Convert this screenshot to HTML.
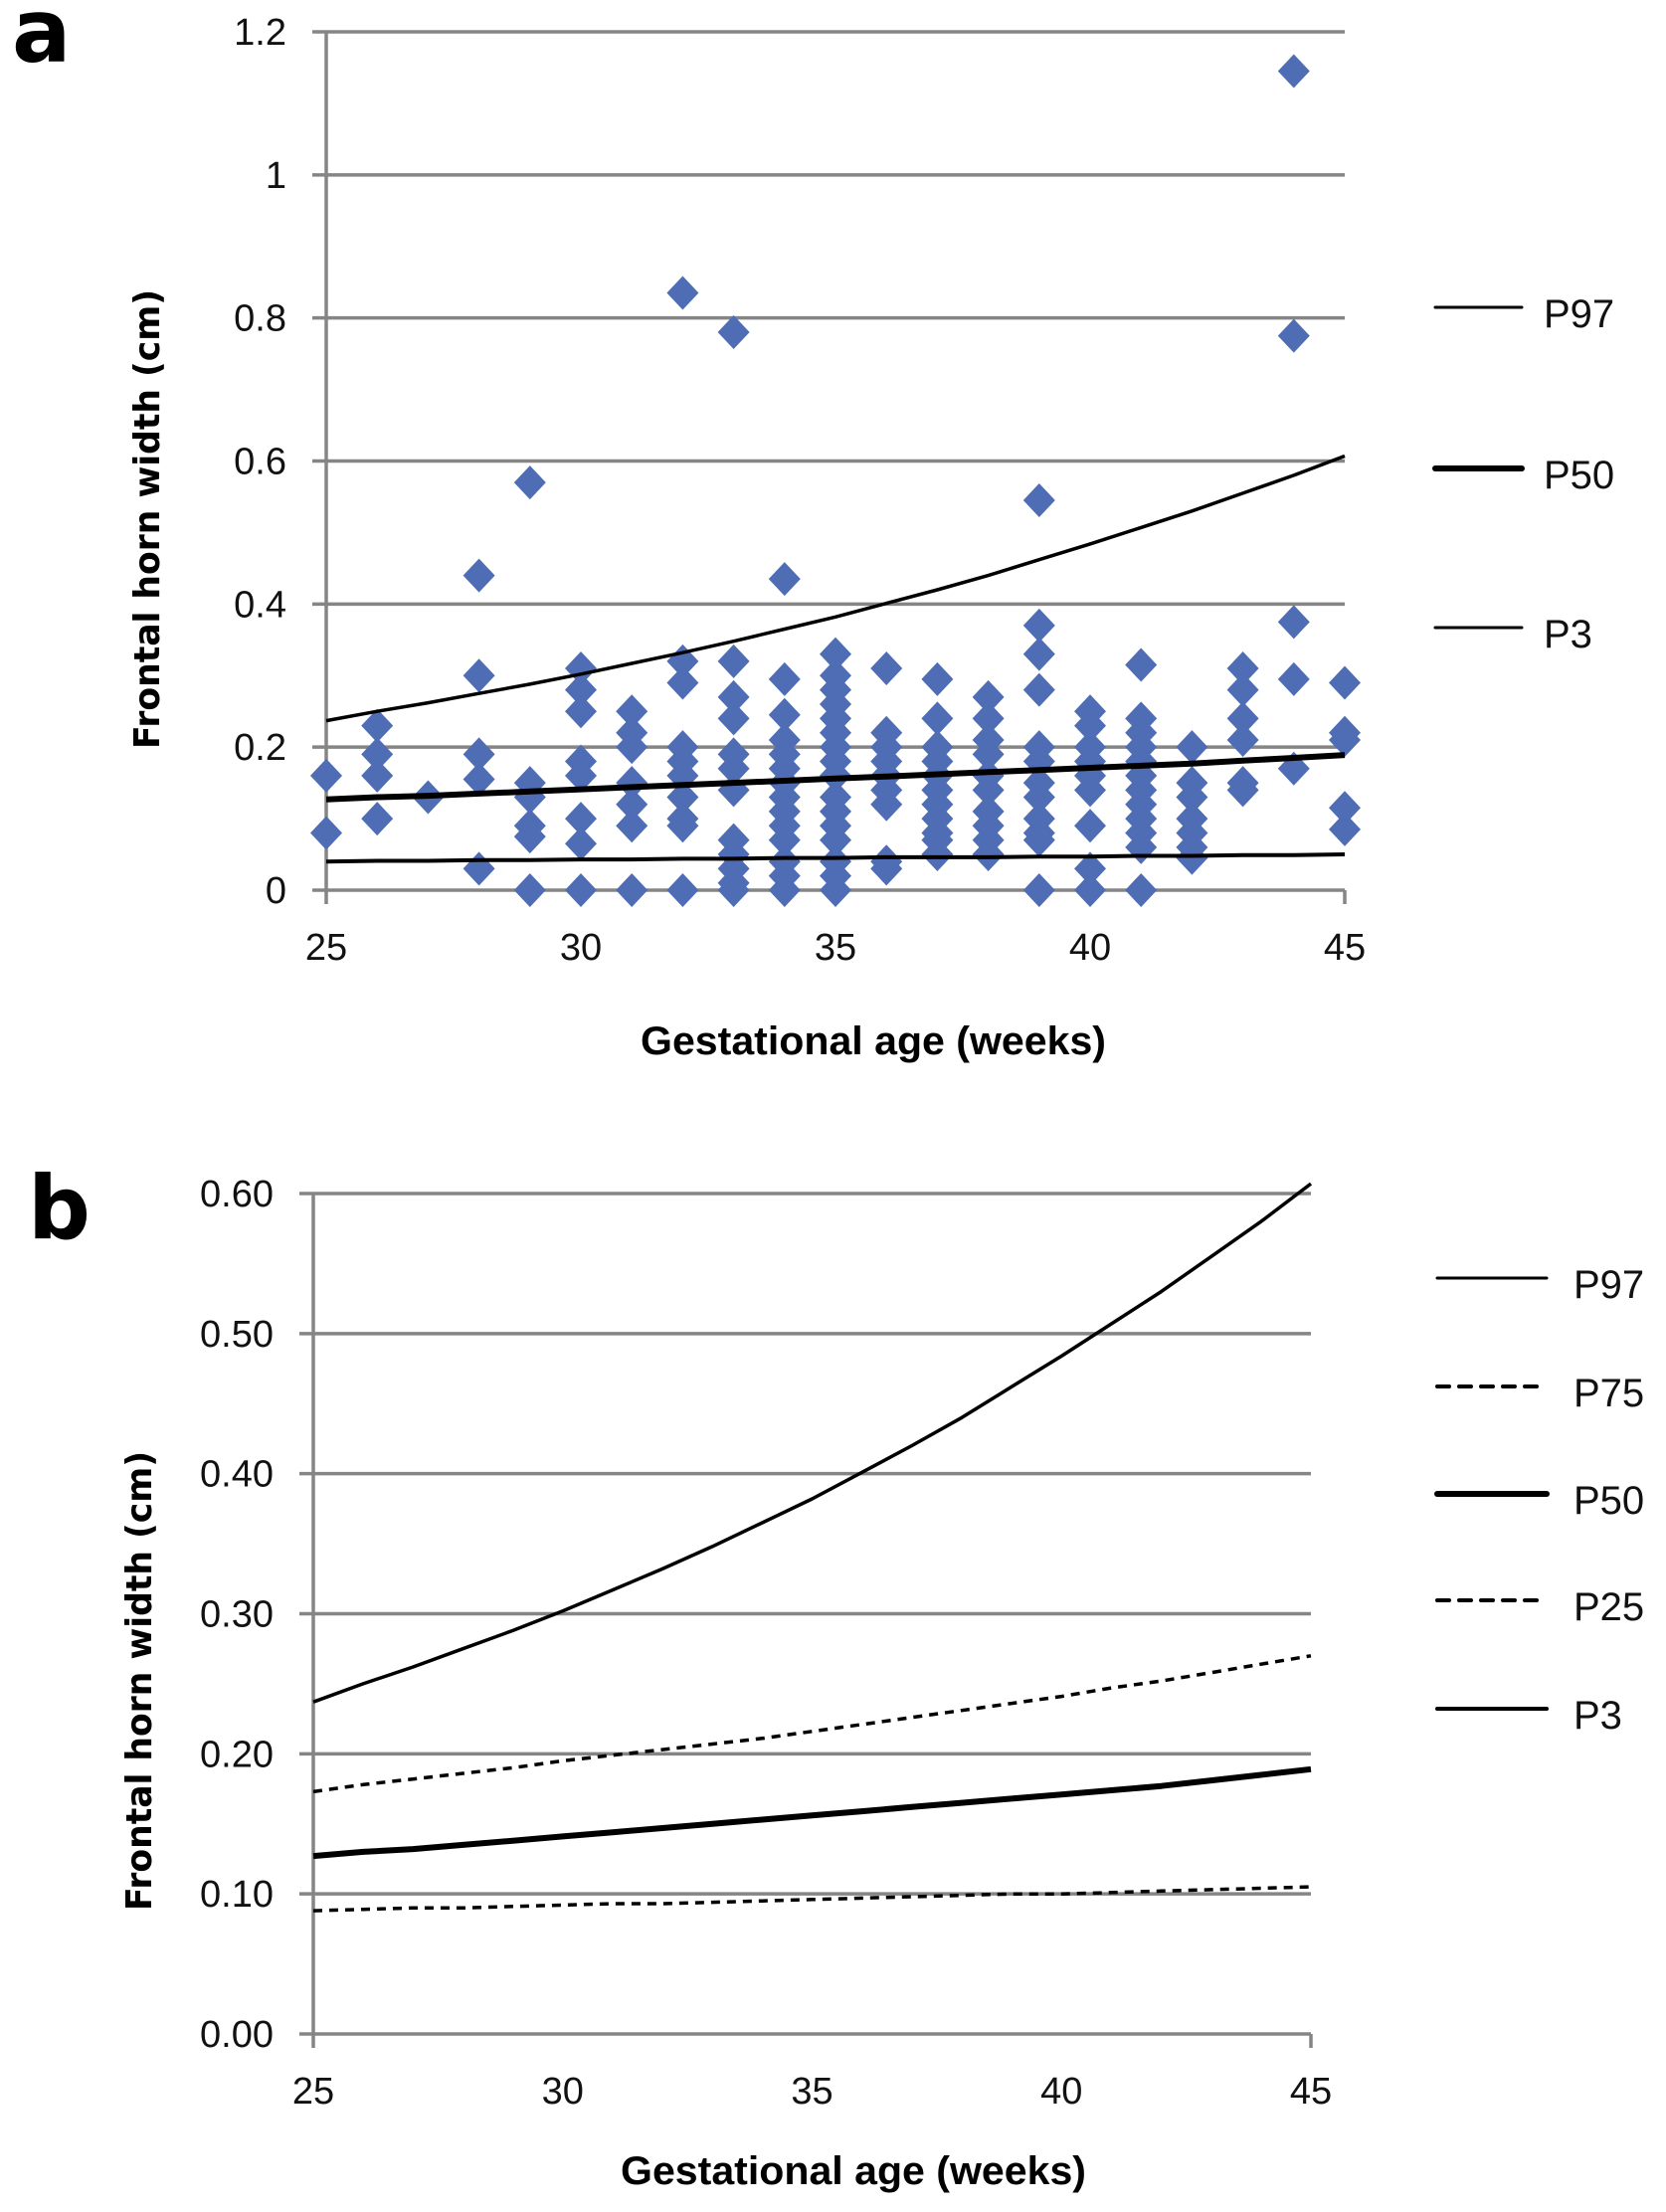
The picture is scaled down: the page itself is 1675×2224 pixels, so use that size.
<!DOCTYPE html>
<html><head><meta charset="utf-8">
<style>
html,body{margin:0;padding:0;background:#fff;}
svg{display:block;}
.tick{font-family:"Liberation Sans Narrow","Liberation Sans",sans-serif;font-size:38px;fill:#111;}
.leg{font-family:"Liberation Sans",sans-serif;font-size:40px;fill:#111;}
.ytitle{font-family:"DejaVu Sans",sans-serif;font-weight:bold;font-size:36px;fill:#000;}
.xtitle{font-family:"Liberation Sans Narrow","Liberation Sans",sans-serif;font-weight:bold;font-size:40px;fill:#000;}
.panel{font-family:"DejaVu Sans",sans-serif;font-weight:bold;font-size:88px;fill:#000;}
</style></head>
<body>
<svg id="fig" width="1675" height="2224" viewBox="0 0 1675 2224" xmlns="http://www.w3.org/2000/svg">
<text class="panel" x="12" y="62">a</text>
<text class="panel" x="28" y="1245">b</text>
<g id="ga"></g>
<g id="gb"></g>
</svg>
<script>
const weeks = [25,26,27,28,29,30,31,32,33,34,35,36,37,38,39,40,41,42,43,44,45];
const p97 = [0.237,0.25,0.262,0.275,0.288,0.302,0.317,0.332,0.348,0.365,0.382,0.401,0.42,0.44,0.462,0.484,0.507,0.53,0.555,0.58,0.607];
const p75 = [0.173,0.178,0.182,0.186,0.19,0.195,0.199,0.203,0.207,0.211,0.216,0.221,0.226,0.231,0.236,0.241,0.247,0.252,0.258,0.264,0.27];
const p50 = [0.127,0.13,0.132,0.135,0.138,0.141,0.144,0.147,0.15,0.153,0.156,0.159,0.162,0.165,0.168,0.171,0.174,0.177,0.181,0.185,0.189];
const p25 = [0.088,0.089,0.09,0.09,0.091,0.092,0.093,0.093,0.094,0.095,0.096,0.097,0.098,0.099,0.1,0.1,0.101,0.102,0.103,0.104,0.105];
const p3 = [0.04,0.041,0.041,0.042,0.042,0.043,0.043,0.044,0.044,0.045,0.045,0.046,0.046,0.046,0.047,0.047,0.048,0.048,0.049,0.049,0.05];
const scatterWeeks = [25,26,27,28,29,30,31,32,33,34,35,36,37,38,39,40,41,42,43,44,45];
const scatterValues = [
 [0.16,0.08],
 [0.23,0.19,0.16,0.1],
 [0.13],
 [0.44,0.3,0.19,0.155,0.03],
 [0.57,0.15,0.13,0.09,0.075,0],
 [0.31,0.28,0.25,0.18,0.16,0.1,0.065,0],
 [0.25,0.22,0.2,0.15,0.12,0.09,0],
 [0.835,0.32,0.29,0.2,0.18,0.16,0.13,0.1,0.09,0],
 [0.78,0.32,0.27,0.24,0.19,0.17,0.14,0.07,0.05,0.03,0.01,0],
 [0.435,0.295,0.245,0.21,0.19,0.17,0.15,0.13,0.11,0.09,0.07,0.04,0.02,0],
 [0.33,0.3,0.28,0.26,0.24,0.22,0.2,0.18,0.16,0.13,0.11,0.09,0.07,0.04,0.02,0],
 [0.31,0.22,0.2,0.18,0.16,0.14,0.12,0.04,0.03],
 [0.295,0.24,0.2,0.18,0.16,0.14,0.12,0.1,0.08,0.07,0.05],
 [0.27,0.24,0.21,0.19,0.16,0.14,0.11,0.09,0.07,0.05],
 [0.545,0.37,0.33,0.28,0.2,0.18,0.15,0.13,0.1,0.08,0.07,0],
 [0.25,0.23,0.2,0.18,0.16,0.14,0.09,0.03,0],
 [0.315,0.24,0.22,0.2,0.18,0.16,0.14,0.12,0.1,0.08,0.06,0],
 [0.2,0.15,0.13,0.1,0.08,0.06,0.045],
 [0.31,0.28,0.24,0.21,0.15,0.14],
 [1.145,0.775,0.375,0.295,0.17],
 [0.29,0.22,0.21,0.115,0.085]
];
const xTicks = [25,30,35,40,45];
const yTicksA = [0,0.2,0.4,0.6,0.8,1,1.2];
const yTickLabelsA = ["0","0.2","0.4","0.6","0.8","1","1.2"];
const yTicksB = [0,0.1,0.2,0.3,0.4,0.5,0.6];
const yTickLabelsB = ["0.00","0.10","0.20","0.30","0.40","0.50","0.60"];

const NS = "http://www.w3.org/2000/svg";
function mk(parent, tag, attrs){const e=document.createElementNS(NS,tag);for(const k in attrs)e.setAttribute(k,attrs[k]);parent.appendChild(e);return e;}

function drawChart(g, cfg){
  const X = v => cfg.x0 + (v-25)/(45-25)*(cfg.x1-cfg.x0);
  const Y = v => cfg.y0 - (v-cfg.ymin)/(cfg.ymax-cfg.ymin)*(cfg.y0-cfg.y1);
  cfg.yTicks.forEach((t,i)=>{
    const l = mk(g,'line',{x1:cfg.x0-14,x2:cfg.x1,y1:Y(t),y2:Y(t),stroke:'#858585','stroke-width':3.5});
    
    
    const tx = mk(g,'text',{x:cfg.x0-40,y:Y(t)+13,'text-anchor':'end',class:'tick'});
    tx.textContent = cfg.yLabels[i];
    
    
  });
  const ax = mk(g,'line',{x1:cfg.x0,x2:cfg.x0,y1:Y(cfg.ymax),y2:Y(cfg.ymin)+14,stroke:'#858585','stroke-width':3.5});
  
  
  const ax2 = mk(g,'line',{x1:cfg.x1,x2:cfg.x1,y1:Y(cfg.ymin),y2:Y(cfg.ymin)+14,stroke:'#858585','stroke-width':3.5});
  
  
  xTicks.forEach(t=>{
    const tx = mk(g,'text',{x:X(t),y:cfg.y0+70,'text-anchor':'middle',class:'tick'});
    tx.textContent = String(t);
    
    
  });
  if(cfg.scatter){
    scatterWeeks.forEach((w,i)=>{
      scatterValues[i].forEach(v=>{
        const cx=X(w), cy=Y(v);
        const p = mk(g,'polygon',{points:`${cx},${cy-17} ${cx+16},${cy} ${cx},${cy+17} ${cx-16},${cy}`,fill:'#4F6DB4'});
        
        
      });
    });
  }
  cfg.series.forEach(s=>{
    const pts = weeks.map((w,i)=>X(w).toFixed(1)+','+Y(s.vals[i]).toFixed(1)).join(' ');
    const a = {points:pts,fill:'none',stroke:'#000','stroke-width':s.w,'stroke-linejoin':'round'};
    if(s.dash) a['stroke-dasharray']='9,7';
    const pl = mk(g,'polyline',a);
    
    
  });
  cfg.legend.forEach((s,i)=>{
    const ly = cfg.legY[i];
    const a = {x1:cfg.legX,x2:cfg.legX+cfg.legW,y1:ly,y2:ly,stroke:'#000','stroke-width':s.lw,'stroke-linecap':'round'};
    if(s.dash) a['stroke-dasharray']='12,10';
    const l = mk(g,'line',a);
    
    
    const t = mk(g,'text',{x:cfg.legTX,y:ly+20,class:'leg'});
    t.textContent = s.name;
    
    
  });
  const yt = mk(g,'text',{x:0,y:0,class:'ytitle','text-anchor':'middle',transform:`translate(${cfg.ytX},${cfg.ytY}) rotate(-90)`,textLength:462,lengthAdjust:'spacingAndGlyphs'});
  yt.textContent='Frontal horn width (cm)';
  
  
  const xt = mk(g,'text',{x:cfg.xtX,y:cfg.xtY,class:'xtitle','text-anchor':'middle',textLength:468,lengthAdjust:'spacingAndGlyphs'});
  xt.textContent='Gestational age (weeks)';
  
  
}

drawChart(document.getElementById('ga'),{
  x0:328,x1:1352,y0:895,y1:32,ymin:0,ymax:1.2,yTicks:yTicksA,yLabels:yTickLabelsA,scatter:true,
  series:[{name:'P97',vals:p97,w:3.5},{name:'P50',vals:p50,w:6},{name:'P3',vals:p3,w:4}],
  legend:[{name:'P97',lw:3},{name:'P50',lw:6},{name:'P3',lw:3}],
  legX:1443,legW:87,legTX:1552,legY:[309,471,631],
  ytX:160,ytY:522,xtX:878,xtY:1060
});
drawChart(document.getElementById('gb'),{
  x0:315,x1:1318,y0:2045,y1:1200,ymin:0,ymax:0.6,yTicks:yTicksB,yLabels:yTickLabelsB,scatter:false,
  series:[{name:'P97',vals:p97,w:3.5},{name:'P75',vals:p75,w:3.5,dash:true},{name:'P50',vals:p50,w:6},{name:'P25',vals:p25,w:3.5,dash:true}],
  legend:[{name:'P97',lw:3},{name:'P75',lw:4,dash:true},{name:'P50',lw:6},{name:'P25',lw:4,dash:true},{name:'P3',lw:4}],
  legX:1445,legW:110,legTX:1582,legY:[1285,1394,1502,1609,1718],
  ytX:152,ytY:1690,xtX:858,xtY:2196
});
</script>
</body></html>
